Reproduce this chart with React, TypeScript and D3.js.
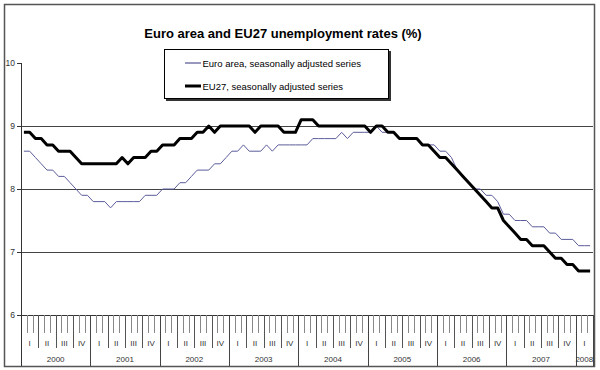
import React from "react";
import * as d3 from "d3";

const title = "Euro area and EU27 unemployment rates (%)";
const seriesNames = ["Euro area, seasonally adjusted series", "EU27, seasonally adjusted series"];
const yearLabels = ["2000", "2001", "2002", "2003", "2004", "2005", "2006", "2007", "2008"];
const quarterLabels = ["I", "II", "III", "IV"];
const yTicks = [6, 7, 8, 9, 10];

// monthly values, Jan 2000 - Mar 2008
const euroArea = [
  8.6, 8.6, 8.5, 8.4, 8.3, 8.3, 8.2, 8.2, 8.1, 8.0, 7.9, 7.9,
  7.8, 7.8, 7.8, 7.7, 7.8, 7.8, 7.8, 7.8, 7.8, 7.9, 7.9, 7.9,
  8.0, 8.0, 8.0, 8.1, 8.1, 8.2, 8.3, 8.3, 8.3, 8.4, 8.4, 8.5,
  8.6, 8.6, 8.7, 8.6, 8.6, 8.6, 8.7, 8.6, 8.7, 8.7, 8.7, 8.7,
  8.7, 8.7, 8.8, 8.8, 8.8, 8.8, 8.8, 8.9, 8.8, 8.9, 8.9, 8.9,
  8.9, 9.0, 8.9, 8.9, 8.9, 8.8, 8.8, 8.8, 8.8, 8.7, 8.7, 8.7,
  8.6, 8.6, 8.5, 8.3, 8.2, 8.1, 8.0, 8.0, 7.9, 7.9, 7.8, 7.6,
  7.6, 7.5, 7.5, 7.5, 7.4, 7.4, 7.4, 7.3, 7.3, 7.2, 7.2, 7.2,
  7.1, 7.1, 7.1,
];
const eu27 = [
  8.9, 8.9, 8.8, 8.8, 8.7, 8.7, 8.6, 8.6, 8.6, 8.5, 8.4, 8.4,
  8.4, 8.4, 8.4, 8.4, 8.4, 8.5, 8.4, 8.5, 8.5, 8.5, 8.6, 8.6,
  8.7, 8.7, 8.7, 8.8, 8.8, 8.8, 8.9, 8.9, 9.0, 8.9, 9.0, 9.0,
  9.0, 9.0, 9.0, 9.0, 8.9, 9.0, 9.0, 9.0, 9.0, 8.9, 8.9, 8.9,
  9.1, 9.1, 9.1, 9.0, 9.0, 9.0, 9.0, 9.0, 9.0, 9.0, 9.0, 9.0,
  8.9, 9.0, 9.0, 8.9, 8.9, 8.8, 8.8, 8.8, 8.8, 8.7, 8.7, 8.6,
  8.5, 8.5, 8.4, 8.3, 8.2, 8.1, 8.0, 7.9, 7.8, 7.7, 7.7, 7.5,
  7.4, 7.3, 7.2, 7.2, 7.1, 7.1, 7.1, 7.0, 6.9, 6.9, 6.8, 6.8,
  6.7, 6.7, 6.7,
];

const W = 600;
const H = 370;
const FONT = "'Liberation Sans', Arial, sans-serif";

export default function App() {
  const months = d3.range(euroArea.length);
  const x = d3.scaleBand<number>().domain(months).range([21, 593]).paddingInner(0).paddingOuter(0);
  const y = d3.scaleLinear().domain([6, 10]).range([315, 63]);
  const cx = (i: number) => (x(i) as number) + x.bandwidth() / 2;
  const line = d3
    .line<number>()
    .x((_, i) => cx(i))
    .y((d) => y(d));

  const axisY = y(6);
  const step = x.step();
  const boundaries = d3.range(months.length + 1);

  return (
    <svg
      width={W}
      height={H}
      style={{ position: "absolute", left: 0, top: 0, background: "#fff" }}
      fontFamily={FONT}
    >
      <rect x={4.5} y={4.5} width={590} height={362} fill="#fff" stroke="#555" strokeWidth={1.5} />
      <text x={283} y={38} textAnchor="middle" fontSize={13} fontWeight="bold" fill="#000">
        {title}
      </text>

      {/* gridlines */}
      {yTicks.filter((t) => t > 6 && t < 10).map((t) => (
        <line key={t} x1={21} x2={593} y1={Math.round(y(t)) + 0.5} y2={Math.round(y(t)) + 0.5} stroke="#444" />
      ))}
      {/* y axis */}
      <line x1={21.5} x2={21.5} y1={y(10)} y2={366} stroke="#333" />
      {yTicks.map((t) => (
        <g key={t}>
          <line x1={17} x2={21} y1={Math.round(y(t)) + 0.5} y2={Math.round(y(t)) + 0.5} stroke="#333" />
          <text x={15} y={y(t) + 3} textAnchor="end" fontSize={8.5} fill="#333">
            {t}
          </text>
        </g>
      ))}

      {/* category axis */}
      <line x1={21} x2={593} y1={axisY + 0.5} y2={axisY + 0.5} stroke="#333" />
      {boundaries.map((b) => {
        const bx = Math.round(21 + b * step) + 0.5;
        const isYear = b % 12 === 0;
        const isQuarter = b % 3 === 0;
        if (b === 0) return null;
        if (isYear || b === months.length) {
          return <line key={b} x1={bx} x2={bx} y1={axisY} y2={366} stroke="#444" />;
        }
        if (isQuarter) {
          return <line key={b} x1={bx} x2={bx} y1={axisY} y2={348} stroke="#555" />;
        }
        return <line key={b} x1={bx} x2={bx} y1={axisY} y2={333} stroke="#888" />;
      })}
      {d3.range(Math.ceil(months.length / 3)).map((q) => {
        const first = q * 3;
        const last = Math.min(first + 3, months.length);
        const mid = 21 + ((first + last) / 2) * step;
        return (
          <text key={q} x={mid} y={346} textAnchor="middle" fontSize={8} fill="#333">
            {quarterLabels[q % 4]}
          </text>
        );
      })}
      {yearLabels.map((yr, k) => {
        const first = k * 12;
        const last = Math.min(first + 12, months.length);
        const mid = 21 + ((first + last) / 2) * step;
        return (
          <text key={yr} x={mid} y={362} textAnchor="middle" fontSize={8} fill="#333">
            {yr}
          </text>
        );
      })}

      {/* series */}
      <path d={line(euroArea) || ""} fill="none" stroke="#5c5c9c" strokeWidth={1} />
      <path d={line(eu27) || ""} fill="none" stroke="#000" strokeWidth={3} strokeLinejoin="round" />

      {/* legend */}
      <rect x={166} y={51} width={225} height={50} fill="#333" />
      <rect x={164.5} y={49.5} width={224} height={49} fill="#fff" stroke="#000" />
      <line x1={185} x2={201} y1={63} y2={63} stroke="#33337a" strokeWidth={1} />
      <text x={202.5} y={66.5} fontSize={9.5} fill="#000">
        {seriesNames[0]}
      </text>
      <line x1={185} x2={201} y1={86} y2={86} stroke="#000" strokeWidth={3} />
      <text x={202.5} y={89.5} fontSize={9.5} fill="#000">
        {seriesNames[1]}
      </text>
    </svg>
  );
}
